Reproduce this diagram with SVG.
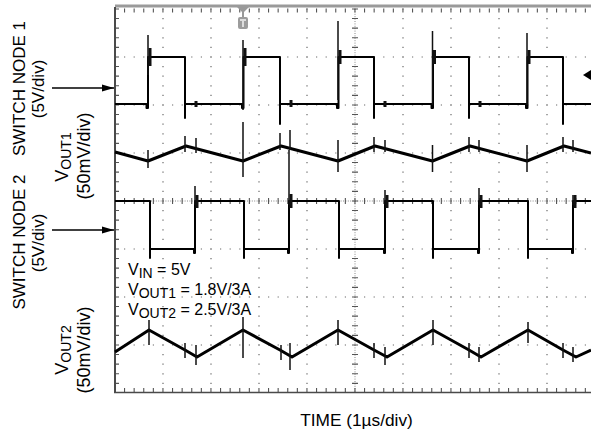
<svg xmlns="http://www.w3.org/2000/svg" width="591" height="434" viewBox="0 0 591 434">
<style>
.lbl{font-family:"Liberation Sans",Arial,sans-serif;fill:#000}
.grid{stroke:#6a6a6a;stroke-width:1.2;stroke-dasharray:1.2 8.4;fill:none}
.cgrid{stroke:#8a8a8a;stroke-width:1;stroke-dasharray:1 1.4;fill:none}
.tick{stroke:#555;stroke-dasharray:1.1 8.5;fill:none}
.trace{stroke:#000;fill:none;stroke-linejoin:round}
.spk{stroke:#111;fill:none}
.conn{stroke:#000;stroke-width:1.4;fill:none}
</style>
<defs>
<marker id="ah" markerWidth="12" markerHeight="8" refX="12" refY="4" orient="auto" markerUnits="userSpaceOnUse">
<polygon points="0,0.5 12,4 0,7.5" fill="#000"/>
</marker>
</defs>
<rect width="591" height="434" fill="#fff"/>

<g id="graticule">
<line class="grid" x1="163" y1="8.4" x2="163" y2="393"/>
<line class="grid" x1="211" y1="8.4" x2="211" y2="393"/>
<line class="grid" x1="259" y1="8.4" x2="259" y2="393"/>
<line class="grid" x1="307" y1="8.4" x2="307" y2="393"/>
<line class="grid" x1="403" y1="8.4" x2="403" y2="393"/>
<line class="grid" x1="451" y1="8.4" x2="451" y2="393"/>
<line class="grid" x1="499" y1="8.4" x2="499" y2="393"/>
<line class="grid" x1="547" y1="8.4" x2="547" y2="393"/>
<line class="grid" x1="114.4" y1="57" x2="591" y2="57"/>
<line class="grid" x1="114.4" y1="105" x2="591" y2="105"/>
<line class="grid" x1="114.4" y1="153" x2="591" y2="153"/>
<line class="grid" x1="114.4" y1="249" x2="591" y2="249"/>
<line class="grid" x1="114.4" y1="297" x2="591" y2="297"/>
<line class="grid" x1="114.4" y1="345" x2="591" y2="345"/>
<line class="cgrid" x1="355" y1="9" x2="355" y2="392"/>
<line class="cgrid" x1="115" y1="201" x2="591" y2="201"/>
<line class="tick" stroke-width="6" x1="355" y1="8.4" x2="355" y2="392"/>
<line class="tick" stroke-width="6" x1="114.4" y1="201" x2="591" y2="201"/>
<line class="tick" stroke-width="4" x1="117" y1="8.4" x2="117" y2="392"/>
<line class="tick" stroke-width="4" x1="114.4" y1="10.5" x2="591" y2="10.5"/>
<line class="tick" stroke-width="4" x1="114.4" y1="390" x2="591" y2="390"/>
<line x1="115" y1="6" x2="591" y2="6" stroke="#9a9a9a" stroke-width="3"/>
<line x1="115" y1="7" x2="115" y2="393" stroke="#4a4a4a" stroke-width="2"/>
<line x1="114" y1="392.5" x2="591" y2="392.5" stroke="#4a4a4a" stroke-width="1.6"/>
</g>

<g id="trigger-marker">
<polygon points="237,7 249,7 243,13" fill="#999"/>
<line x1="243" y1="12" x2="243" y2="18" stroke="#999" stroke-width="2"/>
<rect x="238" y="17" width="10" height="12" rx="2" fill="#9c9c9c"/>
<rect x="240" y="19" width="6" height="2" fill="#ddd"/>
<rect x="242" y="21" width="2" height="6" fill="#ddd"/>
<polygon points="583,75 591,70 591,80" fill="#000"/>
</g>

<g id="switch-node-1-trace">
<path class="trace" stroke-width="2" d="M115,104 H146.5 V108 H148 V57 H185 V118 V104 H242 V108 H243.5 V57 H280 V124 V104 H337 V108 H338.5 V57 H374 V118 V104 H431.5 V108 H433 V57 H469 V118 V104 H526 V108 H527.5 V57 H563 V124 V104 H591"/>
<path class="spk" stroke-width="1.5" d="M148,35 V75 M243,40 V110 M338,21 V100 M432.5,31 V105 M527,33 V105"/>
<path class="spk" stroke-width="3" d="M150,48 V66 M245,48 V66 M340,50 V64 M434.5,50 V64 M529,50 V64 M196,101 V107 M291,100 V107 M385,101 V107 M480,101 V107"/>
</g>

<g id="vout1-trace">
<path class="trace" stroke-width="3" d="M115,152 L148,161 L186,146 L243,161 L281,146 L338,161 L375,146 L432.5,161 L470,146 L527,161 L564,146 L591,153"/>
<path class="spk" stroke-width="1.5" d="M148,150 V168 M243,122 V177 M338,140 V172 M432.5,145 V172 M527,145 V172 M185,136 V152 M196,138 V153 M280,133 V150 M290,130 V150 M374,137 V152 M385,140 V152 M469,137 V152 M479,140 V152 M563,137 V152 M573,140 V152"/>
</g>

<g id="switch-node-2-trace">
<path class="trace" stroke-width="2" d="M115,201 H150 V258 V249 H194 V253 H195 V201 H244 V258 V249 H288 V253 H289 V201 H339 V258 V249 H384 V253 H385 V201 H433 V258 V249 H478 V253 H479 V201 H528 V258 V249 H572 V253 H573 V201 H591"/>
<path class="spk" stroke-width="1.5" d="M195,186 V205 M289,150 V205 M385,190 V205 M479,188 V205 M573,195 V205"/>
<path class="spk" stroke-width="3" d="M197,195 V208 M291,194 V208 M387,195 V208 M481,195 V208 M575,195 V208"/>
</g>

<g id="vout2-trace">
<path class="trace" stroke-width="3" d="M115,352 L149,330 L185,350 L197,357 L243,330 L280,350 L292,357 L338,330 L374,350 L387,357 L433,330 L469,350 L481,357 L528,330 L563,350 L576,357 L591,350"/>
<path class="spk" stroke-width="1.5" d="M149,320 V345 M243,317 V358 M338,320 V345 M433,320 V345 M528,322 V343 M185,343 V358 M196,345 V365 M281,345 V360 M290,343 V370 M374,343 V358 M385,347 V365 M469,343 V358 M479,347 V362 M563,343 V358 M573,347 V362"/>
</g>

<g id="connectors">
<line class="conn" x1="52" y1="88" x2="114" y2="88" marker-end="url(#ah)"/>
<line class="conn" x1="52" y1="230" x2="114" y2="230" marker-end="url(#ah)"/>
</g>

<g id="label-switch-node-1">
<text class="lbl" font-size="17" text-anchor="middle" transform="translate(25,88.5) rotate(-90)">SWITCH NODE 1</text>
<text class="lbl" font-size="17" text-anchor="middle" transform="translate(43.5,89) rotate(-90)">(5V/div)</text>
</g>
<g id="label-vout1">
<text class="lbl" font-size="18" text-anchor="middle" transform="translate(68,157) rotate(-90)">V<tspan font-size="14" dy="3">OUT1</tspan></text>
<text class="lbl" font-size="18" text-anchor="middle" transform="translate(90,156) rotate(-90)">(50mV/div)</text>
</g>
<g id="label-switch-node-2">
<text class="lbl" font-size="17" text-anchor="middle" transform="translate(25,242) rotate(-90)">SWITCH NODE 2</text>
<text class="lbl" font-size="17" text-anchor="middle" transform="translate(43.5,243) rotate(-90)">(5V/div)</text>
</g>
<g id="label-vout2">
<text class="lbl" font-size="18" text-anchor="middle" transform="translate(68,350) rotate(-90)">V<tspan font-size="14" dy="3">OUT2</tspan></text>
<text class="lbl" font-size="18" text-anchor="middle" transform="translate(90,350) rotate(-90)">(50mV/div)</text>
</g>
<g id="conditions">
<text class="lbl" font-size="16" x="128" y="275">V<tspan font-size="14" dy="2.5">IN</tspan><tspan dy="-2.5"> = 5V</tspan></text>
<text class="lbl" font-size="16" x="128" y="295">V<tspan font-size="14" dy="2.5">OUT1</tspan><tspan dy="-2.5"> = 1.8V/3A</tspan></text>
<text class="lbl" font-size="16" x="128" y="315">V<tspan font-size="14" dy="2.5">OUT2</tspan><tspan dy="-2.5"> = 2.5V/3A</tspan></text>
</g>
<g id="axis-label">
<text class="lbl" font-size="17.3" text-anchor="middle" x="356.5" y="426">TIME (1µs/div)</text>
</g>
</svg>
